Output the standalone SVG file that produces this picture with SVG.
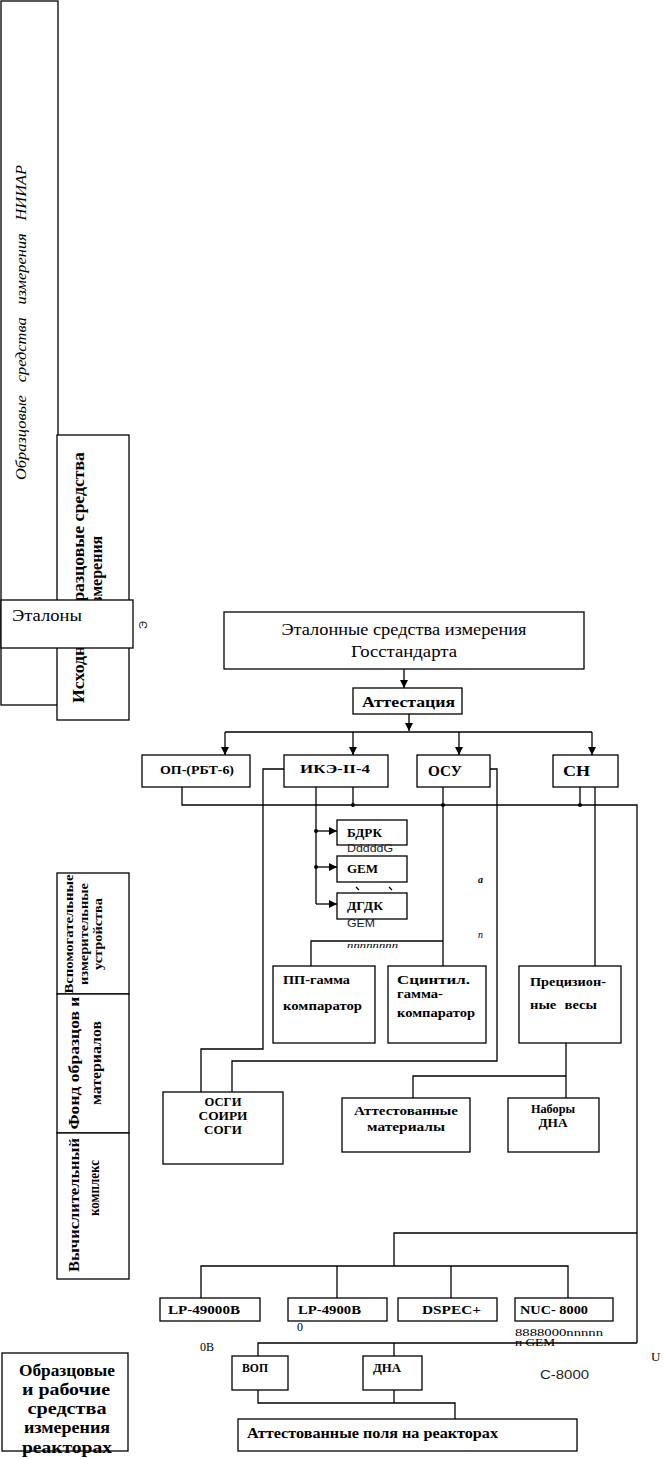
<svg xmlns="http://www.w3.org/2000/svg" width="664" height="1459" viewBox="0 0 664 1459">
<style>
.b{fill:#fff;stroke:#000;stroke-width:1.3}
.l{fill:none;stroke:#000;stroke-width:1.3}
.t{font-family:"Liberation Serif","Times New Roman",serif;fill:#000}
.bd{font-weight:bold}
.s{font-family:"Liberation Sans",Arial,sans-serif;fill:#222}
</style>
<defs>
<marker id="ar" viewBox="0 0 10 10" refX="10" refY="5" markerWidth="8" markerHeight="8" markerUnits="userSpaceOnUse" orient="auto">
<path d="M0,0L10,5L0,10z" fill="#000"/>
</marker>
</defs>
<rect width="664" height="1459" fill="#fff"/>

<g id="niiar">
<rect class="b" x="1" y="1" width="57" height="704"/>
<text class="t" font-style="italic" font-size="15" fill="#444" transform="translate(26,480) rotate(-90)" textLength="315" lengthAdjust="spacingAndGlyphs" word-spacing="8">Образцовые средства измерения НИИАР</text>
</g>
<g id="iskhod">
<rect class="b" x="57" y="435" width="72" height="285"/>
<text class="t bd" font-size="16" transform="translate(84,703) rotate(-90)" textLength="251" lengthAdjust="spacingAndGlyphs">Исходные образцовые средства</text>
<text class="t bd" font-size="16" text-anchor="middle" transform="translate(102,574) rotate(-90)">измерения</text>
</g>
<g id="etalony">
<rect class="b" x="1" y="600" width="132" height="48"/>
<text class="t" font-size="16" x="12" y="621" textLength="70" lengthAdjust="spacingAndGlyphs">Эталоны</text>
<text class="s" font-size="11" fill="#555" transform="translate(147,625) rotate(-90)" text-anchor="middle">Э</text>
</g>

<g id="vspom">
<rect class="b" x="57" y="873" width="72" height="121"/>
<text class="t bd" font-size="12" text-anchor="middle" transform="translate(73,934) rotate(-90)" textLength="119" lengthAdjust="spacingAndGlyphs">Вспомогательные</text>
<text class="t bd" font-size="12" text-anchor="middle" transform="translate(88,934) rotate(-90)" textLength="102" lengthAdjust="spacingAndGlyphs">измерительные</text>
<text class="t bd" font-size="12" text-anchor="middle" transform="translate(102,934) rotate(-90)" textLength="72" lengthAdjust="spacingAndGlyphs">устройства</text>
</g>
<g id="fond">
<rect class="b" x="57" y="994" width="72" height="139"/>
<text class="t bd" font-size="15" text-anchor="middle" transform="translate(79,1063) rotate(-90)" textLength="133" lengthAdjust="spacingAndGlyphs">Фонд образцов и</text>
<text class="t bd" font-size="15" text-anchor="middle" transform="translate(101,1063) rotate(-90)" textLength="84" lengthAdjust="spacingAndGlyphs">материалов</text>
</g>
<g id="vych">
<rect class="b" x="57" y="1133" width="72" height="146"/>
<text class="t bd" font-size="15" text-anchor="middle" transform="translate(79,1205) rotate(-90)" textLength="134" lengthAdjust="spacingAndGlyphs">Вычислительный</text>
<text class="t bd" font-size="14" text-anchor="middle" transform="translate(99,1188) rotate(-90)" textLength="56" lengthAdjust="spacingAndGlyphs">комплекс</text>
</g>

<g id="connectors">
<path class="l" d="M404,669V688" marker-end="url(#ar)"/>
<path class="l" d="M409,714V731"  marker-end="url(#ar)"/>
<path class="l" d="M225,732H592"/>
<path class="l" d="M225,732V755" marker-end="url(#ar)"/>
<path class="l" d="M353,732V755" marker-end="url(#ar)"/>
<path class="l" d="M459,732V755" marker-end="url(#ar)"/>
<path class="l" d="M592,732V755" marker-end="url(#ar)"/>
<path class="l" d="M182,787V805H637V1343"/>
<path class="l" d="M353,787V805"/>
<path class="l" d="M580,787V805"/>
<path class="l" d="M316,787V904"/>
<path class="l" d="M316,831H337" marker-end="url(#ar)"/>
<path class="l" d="M316,867H337" marker-end="url(#ar)"/>
<path class="l" d="M316,904H337" marker-end="url(#ar)"/>
<path class="l" d="M284,769H263V1049H201V1092"/>
<path class="l" d="M490,769H497V1061H232V1092"/>
<path class="l" d="M443,787V966"/>
<path class="l" d="M443,941H311V966"/>
<path class="l" d="M595,787V966"/>
<path class="l" d="M566,1043V1098"/>
<path class="l" d="M566,1076H413V1098"/>
<path class="l" d="M637,1233H394V1266"/>
<path class="l" d="M201,1298V1266H568V1298"/>
<path class="l" d="M337,1266V1298"/>
<path class="l" d="M451,1266V1298"/>
<path class="l" d="M637,1343H258V1356"/>
<path class="l" d="M394,1343V1356"/>
<path class="l" d="M258,1390V1403H455V1419"/>
<path class="l" d="M394,1390V1403"/>
<path class="l" d="M356,887l3,3M389,887l3,3" stroke-width="1"/>
<g fill="#000">
<circle cx="353" cy="805" r="2"/>
<circle cx="443" cy="805" r="2"/>
<circle cx="580" cy="805" r="2"/>
<circle cx="316" cy="831" r="2"/>
<circle cx="316" cy="867" r="2"/>
</g>
</g>

<g id="gosstandart">
<rect class="b" x="224" y="612" width="360" height="57"/>
<text class="t" font-size="17" x="404" y="635" text-anchor="middle" textLength="245" lengthAdjust="spacingAndGlyphs">Эталонные средства измерения</text>
<text class="t" font-size="17" x="404" y="657" text-anchor="middle" textLength="106" lengthAdjust="spacingAndGlyphs">Госстандарта</text>
</g>
<g id="attestaciya">
<rect class="b" x="353" y="688" width="109" height="26"/>
<text class="t bd" font-size="14" x="362" y="707" textLength="93" lengthAdjust="spacingAndGlyphs">Аттестация</text>
</g>
<g id="op">
<rect class="b" x="142" y="755" width="108" height="32"/>
<text class="t bd" font-size="12" x="160" y="774" textLength="74" lengthAdjust="spacingAndGlyphs">ОП-(РБТ-6)</text>
</g>
<g id="ike">
<rect class="b" x="284" y="755" width="104" height="32"/>
<text class="t bd" font-size="12" x="300" y="773" textLength="70" lengthAdjust="spacingAndGlyphs">ИКЭ-II-4</text>
</g>
<g id="osu">
<rect class="b" x="417" y="755" width="73" height="32"/>
<text class="t bd" font-size="15" x="428" y="776" textLength="34" lengthAdjust="spacingAndGlyphs">ОСУ</text>
</g>
<g id="sn">
<rect class="b" x="553" y="755" width="65" height="32"/>
<text class="t bd" font-size="15" x="563" y="776" textLength="27" lengthAdjust="spacingAndGlyphs">СН</text>
</g>

<g id="bdrk">
<rect class="b" x="337" y="820" width="70" height="25"/>
<text class="t bd" font-size="12" x="347" y="837" textLength="35" lengthAdjust="spacingAndGlyphs">БДРК</text>
<text class="s" font-size="11" x="347" y="852" textLength="46" lengthAdjust="spacingAndGlyphs">DddddG</text>
</g>
<g id="gem">
<rect class="b" x="337" y="856" width="70" height="26"/>
<text class="t bd" font-size="12" x="347" y="873" textLength="31" lengthAdjust="spacingAndGlyphs">GEM</text>
</g>
<g id="dgdk">
<rect class="b" x="337" y="893" width="70" height="26"/>
<text class="t bd" font-size="12" x="347" y="910" textLength="36" lengthAdjust="spacingAndGlyphs">ДГДК</text>
<text class="s" font-size="11" x="347" y="927" textLength="28" lengthAdjust="spacingAndGlyphs">GEM</text>
</g>
<g id="marks">
<text class="t" font-size="9" font-style="italic" x="347" y="948" textLength="51" lengthAdjust="spacingAndGlyphs">nnnnnnnn</text>
<text class="t bd" font-size="10" font-style="italic" x="478" y="883">a</text>
<text class="t" font-size="10" font-style="italic" x="478" y="938">n</text>
</g>

<g id="pp">
<rect class="b" x="273" y="966" width="102" height="77"/>
<text class="t bd" font-size="13" x="283" y="984" textLength="67" lengthAdjust="spacingAndGlyphs">ПП-гамма</text>
<text class="t bd" font-size="13" x="283" y="1010" textLength="79" lengthAdjust="spacingAndGlyphs">компаратор</text>
</g>
<g id="scint">
<rect class="b" x="388" y="966" width="98" height="77"/>
<text class="t bd" font-size="13" x="397" y="984" textLength="73" lengthAdjust="spacingAndGlyphs">Сцинтил.</text>
<text class="t bd" font-size="13" x="397" y="998" textLength="46" lengthAdjust="spacingAndGlyphs">гамма-</text>
<text class="t bd" font-size="13" x="397" y="1017" textLength="78" lengthAdjust="spacingAndGlyphs">компаратор</text>
</g>
<g id="precis">
<rect class="b" x="519" y="966" width="102" height="77"/>
<text class="t bd" font-size="13" x="530" y="986" textLength="76" lengthAdjust="spacingAndGlyphs">Прецизион-</text>
<text class="t bd" font-size="13" x="530" y="1009" textLength="67" lengthAdjust="spacingAndGlyphs" word-spacing="4">ные весы</text>
</g>

<g id="osgi">
<rect class="b" x="163" y="1092" width="120" height="72"/>
<text class="t bd" font-size="12" x="223" y="1106" text-anchor="middle" textLength="37" lengthAdjust="spacingAndGlyphs">ОСГИ</text>
<text class="t bd" font-size="12" x="223" y="1120" text-anchor="middle" textLength="49" lengthAdjust="spacingAndGlyphs">СОИРИ</text>
<text class="t bd" font-size="12" x="223" y="1134" text-anchor="middle" textLength="38" lengthAdjust="spacingAndGlyphs">СОГИ</text>
</g>
<g id="attmat">
<rect class="b" x="342" y="1098" width="128" height="54"/>
<text class="t bd" font-size="12" x="406" y="1115" text-anchor="middle" textLength="104" lengthAdjust="spacingAndGlyphs">Аттестованные</text>
<text class="t bd" font-size="12" x="406" y="1131" text-anchor="middle" textLength="78" lengthAdjust="spacingAndGlyphs">материалы</text>
</g>
<g id="nabory">
<rect class="b" x="508" y="1098" width="91" height="54"/>
<text class="t bd" font-size="12" x="553" y="1113" text-anchor="middle" textLength="44" lengthAdjust="spacingAndGlyphs">Наборы</text>
<text class="t bd" font-size="12" x="553" y="1127" text-anchor="middle" textLength="29" lengthAdjust="spacingAndGlyphs">ДНА</text>
</g>

<g id="lp49000">
<rect class="b" x="160" y="1298" width="100" height="23"/>
<text class="t bd" font-size="12" x="168" y="1314" textLength="72" lengthAdjust="spacingAndGlyphs">LP-49000B</text>
</g>
<g id="lp4900">
<rect class="b" x="288" y="1298" width="99" height="23"/>
<text class="t bd" font-size="12" x="298" y="1314" textLength="63" lengthAdjust="spacingAndGlyphs">LP-4900B</text>
</g>
<g id="dspec">
<rect class="b" x="398" y="1298" width="99" height="23"/>
<text class="t bd" font-size="12" x="422" y="1314" textLength="59" lengthAdjust="spacingAndGlyphs">DSPEC+</text>
</g>
<g id="nuc">
<rect class="b" x="515" y="1298" width="98" height="23"/>
<text class="t bd" font-size="12" x="520" y="1314" textLength="68" lengthAdjust="spacingAndGlyphs">NUC- 8000</text>
</g>
<g id="stray">
<text class="t" font-size="12" x="297" y="1331">0</text>
<text class="t" font-size="12" x="200" y="1351">0B</text>
<text class="t" font-size="10" x="515" y="1336" textLength="88" lengthAdjust="spacingAndGlyphs">8888000nnnnn</text>
<text class="t" font-size="10" x="515" y="1346" textLength="40" lengthAdjust="spacingAndGlyphs">п GEM</text>
<text class="t" font-size="13" x="651" y="1361">U</text>
<text class="s" font-size="13" fill="#333" x="540" y="1379" textLength="49" lengthAdjust="spacingAndGlyphs">C-8000</text>
</g>

<g id="vop">
<rect class="b" x="232" y="1356" width="56" height="34"/>
<text class="t bd" font-size="12" x="242" y="1372" textLength="26" lengthAdjust="spacingAndGlyphs">ВОП</text>
</g>
<g id="dna">
<rect class="b" x="363" y="1356" width="59" height="34"/>
<text class="t bd" font-size="12" x="373" y="1372" textLength="28" lengthAdjust="spacingAndGlyphs">ДНА</text>
</g>
<g id="polya">
<rect class="b" x="238" y="1419" width="339" height="32"/>
<text class="t bd" font-size="14" x="247" y="1438" textLength="251" lengthAdjust="spacingAndGlyphs">Аттестованные поля на реакторах</text>
</g>

<g id="reactors">
<rect class="b" x="2" y="1353" width="126" height="98"/>
<text class="t bd" font-size="16" text-anchor="middle" x="67" y="1376" textLength="96" lengthAdjust="spacingAndGlyphs">Образцовые</text>
<text class="t bd" font-size="16" text-anchor="middle" x="66" y="1395" textLength="88" lengthAdjust="spacingAndGlyphs">и рабочие</text>
<text class="t bd" font-size="16" text-anchor="middle" x="67" y="1414" textLength="79" lengthAdjust="spacingAndGlyphs">средства</text>
<text class="t bd" font-size="16" text-anchor="middle" x="67" y="1433" textLength="86" lengthAdjust="spacingAndGlyphs">измерения</text>
<text class="t bd" font-size="16" text-anchor="middle" x="67" y="1453" textLength="90" lengthAdjust="spacingAndGlyphs">реакторах</text>
</g>
</svg>
